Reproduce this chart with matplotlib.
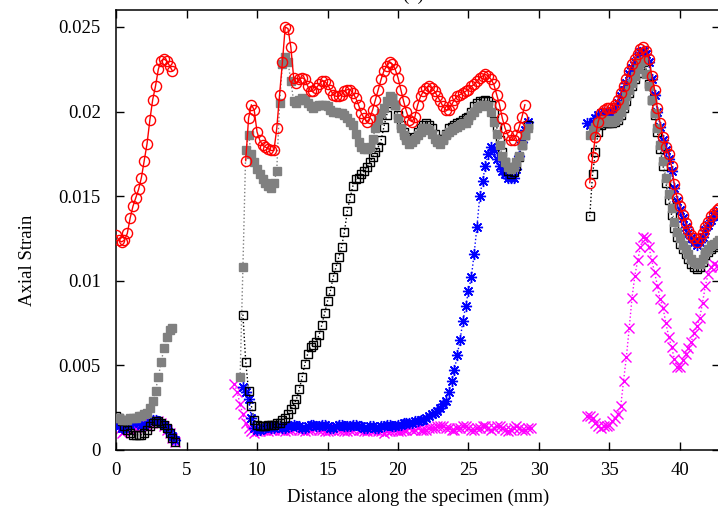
import numpy as np
import matplotlib
matplotlib.use('Agg')
from matplotlib import pyplot as plt

nan = np.nan

# sampling positions (mm) of the three measured zones
xa = np.round(np.arange(0.0, 4.21, 0.2), 1)
xb = np.round(np.arange(8.4, 29.41, 0.2), 1)
xc = np.round(np.arange(33.4, 42.81, 0.2), 1)

# red open circles
red_a = [0.0127, 0.0124, 0.0123, 0.0124, 0.0128, 0.0137, 0.0144, 0.0149, 0.0154, 0.0161,
         0.0171, 0.0181, 0.0195, 0.0207, 0.0215, 0.0225, 0.0230, 0.0231, 0.0230, 0.0227,
         0.0224, nan]
red_b = [nan, nan, nan, nan, 0.0171, 0.0196, 0.0204, 0.0201, 0.0188, 0.0183,
         0.0180, 0.0179, 0.0178, 0.0177, 0.0177, 0.0190, 0.0210, 0.0229, 0.0250, 0.0249,
         0.0238, 0.0220, 0.0217, 0.0219, 0.0220, 0.0219, 0.0215, 0.0212, 0.0212, 0.0214,
         0.0216, 0.0218, 0.0218, 0.0216, 0.0213, 0.0210, 0.0209, 0.0209, 0.0210, 0.0212,
         0.0213, 0.0213, 0.0211, 0.0208, 0.0204, 0.0199, 0.0196, 0.0194, 0.0196, 0.0201,
         0.0207, 0.0213, 0.0219, 0.0224, 0.0227, 0.0229, 0.0228, 0.0225, 0.0220, 0.0213,
         0.0206, 0.0200, 0.0195, 0.0194, 0.0197, 0.0204, 0.0209, 0.0212, 0.0214, 0.0215,
         0.0214, 0.0212, 0.0209, 0.0206, 0.0203, 0.0201, 0.0201, 0.0204, 0.0207, 0.0209,
         0.0210, 0.0211, 0.0212, 0.0213, 0.0215, 0.0216, 0.0218, 0.0220, 0.0221, 0.0222,
         0.0221, 0.0219, 0.0216, 0.0210, 0.0204, 0.0196, 0.0190, 0.0186, 0.0183, 0.0183,
         0.0186, 0.0191, 0.0197, 0.0204, nan, nan]
red_c = [nan, 0.0158, 0.0173, 0.0185, 0.0194, 0.0199, 0.0201, 0.0202, 0.0202, 0.0202,
         0.0204, 0.0207, 0.0211, 0.0215, 0.0219, 0.0224, 0.0228, 0.0231, 0.0234, 0.0237,
         0.0238, 0.0236, 0.0231, 0.0221, 0.0213, 0.0202, 0.0193, 0.0185, 0.0179, 0.0175,
         0.0168, 0.0157, 0.0149, 0.0144, 0.0139, 0.0134, 0.0130, 0.0127, 0.0125, 0.0123,
         0.0125, 0.0128, 0.0132, 0.0135, 0.0138, 0.0140, 0.0142, 0.0143]

# grey filled squares
gray_a = [0.0019, 0.0019, 0.0018, 0.0018, 0.0018, 0.0019, 0.0019, 0.0019, 0.0020, 0.0020,
          0.0021, 0.0022, 0.0025, 0.0029, 0.0035, 0.0043, 0.0052, 0.0060, 0.0067, 0.0071,
          0.0072, nan]
gray_b = [nan, nan, 0.0043, 0.0108, 0.0177, 0.0186, 0.0175, 0.0170, 0.0166, 0.0163,
          0.0160, 0.0158, 0.0156, 0.0155, 0.0158, 0.0165, 0.0205, 0.0228, 0.0232, 0.0229,
          0.0218, 0.0206, 0.0205, 0.0207, 0.0208, 0.0207, 0.0205, 0.0203, 0.0202, 0.0203,
          0.0204, 0.0204, 0.0204, 0.0203, 0.0201, 0.0200, 0.0200, 0.0199, 0.0199, 0.0198,
          0.0196, 0.0194, 0.0192, 0.0187, 0.0182, 0.0179, 0.0178, 0.0178, 0.0179, 0.0184,
          0.0190, 0.0195, 0.0199, 0.0202, 0.0206, 0.0209, 0.0208, 0.0204, 0.0196, 0.0190,
          0.0186, 0.0183, 0.0181, 0.0182, 0.0184, 0.0186, 0.0188, 0.0190, 0.0190, 0.0189,
          0.0187, 0.0184, 0.0182, 0.0181, 0.0183, 0.0186, 0.0188, 0.0189, 0.0190, 0.0191,
          0.0192, 0.0193, 0.0193, 0.0195, 0.0198, 0.0200, 0.0202, 0.0203, 0.0204, 0.0204,
          0.0203, 0.0200, 0.0194, 0.0187, 0.0180, 0.0174, 0.0170, 0.0167, 0.0166, 0.0167,
          0.0170, 0.0174, 0.0180, 0.0186, 0.0190, nan]
gray_c = [nan, 0.0186, 0.0189, 0.0191, 0.0193, 0.0194, 0.0195, 0.0195, 0.0194, 0.0194,
          0.0195, 0.0197, 0.0200, 0.0204, 0.0209, 0.0213, 0.0217, 0.0221, 0.0225, 0.0229,
          0.0230, 0.0222, 0.0215, 0.0207, 0.0199, 0.0190, 0.0180, 0.0171, 0.0161, 0.0151,
          0.0143, 0.0135, 0.0129, 0.0125, 0.0121, 0.0119, 0.0116, 0.0113, 0.0111, 0.0110,
          0.0110, 0.0113, 0.0117, 0.0119, 0.0121, 0.0122, 0.0123, 0.0124]

# black open squares
black_a = [0.0020, 0.0019, 0.0017, 0.0014, 0.0012, 0.0010, 0.0009, 0.0009, 0.0009, 0.0009,
           0.0010, 0.0012, 0.0014, 0.0016, 0.0017, 0.0017, 0.0016, 0.0015, 0.0013, 0.0010,
           0.0007, 0.0005]
black_b = [nan, nan, nan, 0.0080, 0.0052, 0.0035, 0.0026, 0.0018, 0.0015, 0.0014,
           0.0014, 0.0014, 0.0015, 0.0015, 0.0015, 0.0016, 0.0016, 0.0018, 0.0019, 0.0021,
           0.0024, 0.0027, 0.0030, 0.0036, 0.0043, 0.0051, 0.0057, 0.0061, 0.0062, 0.0064,
           0.0068, 0.0074, 0.0081, 0.0088, 0.0094, 0.0102, 0.0108, 0.0114, 0.0120, 0.0129,
           0.0141, 0.0149, 0.0156, 0.0160, 0.0161, 0.0163, 0.0165, 0.0167, 0.0170, 0.0173,
           0.0176, 0.0179, 0.0183, 0.0191, 0.0198, 0.0205, 0.0208, 0.0204, 0.0198, 0.0192,
           0.0188, 0.0185, 0.0183, 0.0183, 0.0185, 0.0188, 0.0190, 0.0192, 0.0193, 0.0192,
           0.0190, 0.0187, 0.0184, 0.0183, 0.0184, 0.0187, 0.0190, 0.0191, 0.0192, 0.0193,
           0.0194, 0.0195, 0.0196, 0.0197, 0.0200, 0.0203, 0.0205, 0.0206, 0.0206, 0.0207,
           0.0206, 0.0204, 0.0199, 0.0191, 0.0183, 0.0176, 0.0170, 0.0165, 0.0163, 0.0164,
           0.0168, 0.0173, 0.0180, 0.0186, 0.0192, nan]
black_c = [nan, 0.0138, 0.0163, 0.0176, 0.0188, 0.0192, 0.0193, 0.0193, 0.0193, 0.0193,
           0.0194, 0.0195, 0.0198, 0.0202, 0.0206, 0.0211, 0.0215, 0.0219, 0.0223, 0.0227,
           0.0229, 0.0225, 0.0216, 0.0207, 0.0198, 0.0188, 0.0178, 0.0168, 0.0158, 0.0148,
           0.0139, 0.0131, 0.0126, 0.0122, 0.0119, 0.0116, 0.0113, 0.0110, 0.0108, 0.0107,
           0.0108, 0.0111, 0.0115, 0.0117, 0.0119, 0.0120, 0.0121, 0.0122]

# blue asterisks
blue_a = [0.0016, 0.0014, 0.0013, 0.0013, 0.0014, 0.0015, 0.0016, 0.0017, 0.0016, 0.0015,
          0.0015, 0.0016, 0.0017, 0.0018, 0.0018, 0.0017, 0.0016, 0.0015, 0.0013, 0.0010,
          0.0008, 0.0006]
blue_b = [nan, nan, nan, 0.0037, 0.0034, 0.0030, 0.0019, 0.0013, 0.0012, 0.0012,
          0.0013, 0.0013, 0.0014, 0.0013, 0.0013, 0.0014, 0.0014, 0.0013, 0.0013, 0.0014,
          0.0014, 0.0015, 0.0014, 0.0014, 0.0013, 0.0013, 0.0014, 0.0015, 0.0015, 0.0014,
          0.0014, 0.0015, 0.0015, 0.0014, 0.0013, 0.0013, 0.0014, 0.0015, 0.0015, 0.0014,
          0.0014, 0.0014, 0.0015, 0.0015, 0.0014, 0.0014, 0.0013, 0.0013, 0.0014, 0.0014,
          0.0013, 0.0013, 0.0014, 0.0014, 0.0015, 0.0015, 0.0014, 0.0014, 0.0015, 0.0015,
          0.0016, 0.0016, 0.0016, 0.0016, 0.0017, 0.0017, 0.0018, 0.0018, 0.0019, 0.0020,
          0.0021, 0.0022, 0.0023, 0.0025, 0.0027, 0.0029, 0.0034, 0.0041, 0.0047, 0.0056,
          0.0065, 0.0076, 0.0085, 0.0094, 0.0102, 0.0116, 0.0132, 0.0150, 0.0159, 0.0168,
          0.0175, 0.0179, 0.0177, 0.0172, 0.0168, 0.0165, 0.0163, 0.0161, 0.0161, 0.0161,
          0.0166, 0.0174, 0.0182, 0.0189, 0.0194, nan]
blue_c = [0.0193, 0.0192, 0.0194, 0.0196, 0.0198, 0.0199, 0.0200, 0.0200, 0.0200, 0.0200,
          0.0202, 0.0205, 0.0209, 0.0213, 0.0217, 0.0222, 0.0226, 0.0229, 0.0232, 0.0235,
          0.0236, 0.0234, 0.0229, 0.0219, 0.0210, 0.0200, 0.0191, 0.0183, 0.0177, 0.0172,
          0.0165, 0.0155, 0.0147, 0.0142, 0.0137, 0.0132, 0.0128, 0.0125, 0.0123, 0.0121,
          0.0123, 0.0126, 0.0130, 0.0133, 0.0136, 0.0138, 0.0140, 0.0141]

# magenta crosses
magenta_a = [0.0015, 0.0012, 0.0010, 0.0011, 0.0013, 0.0012, 0.0014, 0.0013, 0.0015, 0.0014,
             0.0015, 0.0014, 0.0016, 0.0017, 0.0016, 0.0017, 0.0016, 0.0014, 0.0012, 0.0010,
             0.0007, 0.0005]
magenta_b = [0.0039, 0.0034, 0.0027, 0.0021, 0.0016, 0.0013, 0.0011, 0.0010, 0.0011, 0.0011,
             0.0012, 0.0012, 0.0011, 0.0012, 0.0012, 0.0013, 0.0012, 0.0012, 0.0011, 0.0012,
             0.0012, 0.0013, 0.0013, 0.0012, 0.0012, 0.0011, 0.0012, 0.0012, 0.0013, 0.0013,
             0.0012, 0.0012, 0.0011, 0.0011, 0.0012, 0.0012, 0.0013, 0.0012, 0.0012, 0.0011,
             0.0011, 0.0012, 0.0012, 0.0013, 0.0012, 0.0012, 0.0011, 0.0011, 0.0012, 0.0012,
             0.0012, 0.0011, 0.0011, 0.0010, 0.0011, 0.0011, 0.0012, 0.0012, 0.0011, 0.0011,
             0.0012, 0.0012, 0.0013, 0.0012, 0.0012, 0.0013, 0.0012, 0.0012, 0.0012, 0.0013,
             0.0013, 0.0013, 0.0014, 0.0014, 0.0014, 0.0013, 0.0013, 0.0012, 0.0012, 0.0013,
             0.0013, 0.0014, 0.0014, 0.0013, 0.0012, 0.0012, 0.0013, 0.0013, 0.0014, 0.0014,
             0.0013, 0.0012, 0.0013, 0.0014, 0.0014, 0.0013, 0.0012, 0.0011, 0.0012, 0.0013,
             0.0014, 0.0013, 0.0012, 0.0012, 0.0013, 0.0013]
magenta_c = [0.0020, 0.0020, 0.0019, 0.0016, 0.0014, 0.0013, 0.0014, 0.0014, 0.0015, 0.0017,
             0.0019, 0.0021, 0.0026, 0.0041, 0.0055, 0.0072, 0.0090, 0.0103, 0.0112, 0.0120,
             0.0126, 0.0125, 0.0120, 0.0112, 0.0105, 0.0097, 0.0089, 0.0084, 0.0075, 0.0067,
             0.0061, 0.0054, 0.0049, 0.0049, 0.0053, 0.0057, 0.0060, 0.0064, 0.0069, 0.0073,
             0.0078, 0.0087, 0.0097, 0.0104, 0.0108, 0.0110, 0.0109, 0.0108]

xticks = [0, 5, 10, 15, 20, 25, 30, 35, 40]
yticks = [0, 0.005, 0.01, 0.015, 0.02, 0.025]
ytick_labels = ['0', '0.005', '0.01', '0.015', '0.02', '0.025']

plt.rcParams['font.family'] = ['Liberation Serif', 'DejaVu Serif']

fig = plt.figure(figsize=(7.18, 5.17), dpi=100)
ax = fig.add_axes([0.1616, 0.1296, 0.8412, 0.851])

xs = (xa, xb, xc)


def draw(segs, z, **kw):
    for x, y in zip(xs, segs):
        ax.plot(x, y, zorder=z, **kw)


draw((magenta_a, magenta_b, magenta_c), 2, color='#ff00ff', ls=':', lw=1,
     marker='x', ms=7.5, mew=1.0)
draw((blue_a, blue_b, blue_c), 3, color='#0000ff', ls=':', lw=1,
     marker=(8, 2, 0), ms=8, mew=1.0)
draw((black_a, black_b, black_c), 4, color='black', ls=':', lw=1,
     marker='s', ms=6.3, mfc='none', mew=1.0)
draw((gray_a, gray_b, gray_c), 5, color='#808080', ls=':', lw=1,
     marker='s', ms=6.3, mec='#808080')
draw((red_a, red_b, red_c), 6, color='#ff0000', ls='-', lw=1,
     marker='o', ms=7.3, mfc='none', mew=1.0)

ax.set_xlim(0, 42.84)
ax.set_ylim(0, 0.026)
ax.set_xticks(xticks)
ax.set_yticks(yticks)
ax.set_yticklabels(ytick_labels)
ax.tick_params(direction='in', length=6, width=1, top=True, right=True,
               labelsize=13.5)
ax.tick_params(axis='y', pad=11)
ax.tick_params(axis='x', pad=9)
for s in ax.spines.values():
    s.set_linewidth(1.1)

ax.set_xlabel('Distance along the specimen (mm)', fontsize=13.5)
ax.set_ylabel('Axial Strain', fontsize=13.5)
ax.xaxis.set_label_coords(0.5, -0.089)
ax.yaxis.set_label_coords(-0.132, 0.432)

# panel title, cropped at the top edge as in the source figure
fig.text(0.575, 1.0, '(b)', ha='center', va='baseline', fontsize=13.5)

fig.savefig('out.png', dpi=100)
